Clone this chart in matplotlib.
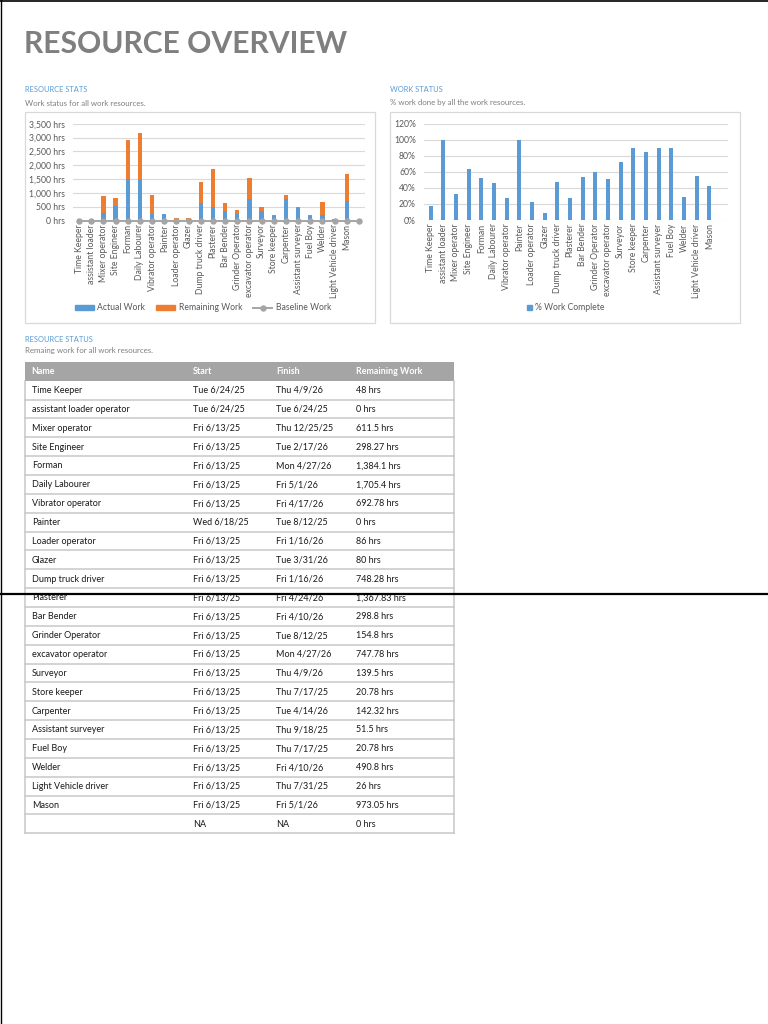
import matplotlib
matplotlib.use('Agg')
import matplotlib.pyplot as plt
from matplotlib.patches import Rectangle, Patch
from matplotlib.lines import Line2D
import numpy as np

plt.rcParams['font.family'] = ['Lato', 'DejaVu Sans']

# ---------------- data ----------------
names = ["Time Keeper", "assistant loader operator", "Mixer operator", "Site Engineer",
         "Forman", "Daily Labourer", "Vibrator operator", "Painter", "Loader operator",
         "Glazer", "Dump truck driver", "Plasterer", "Bar Bender", "Grinder Operator",
         "excavator operator", "Surveyor", "Store keeper", "Carpenter", "Assistant surveyer",
         "Fuel Boy", "Welder", "Light Vehicle driver", "Mason", ""]
chart_labels = ["Time Keeper", "assistant loader", "Mixer operator", "Site Engineer",
                "Forman", "Daily Labourer", "Vibrator operator", "Painter", "Loader operator",
                "Glazer", "Dump truck driver", "Plasterer", "Bar Bender", "Grinder Operator",
                "excavator operator", "Surveyor", "Store keeper", "Carpenter", "Assistant surveyer",
                "Fuel Boy", "Welder", "Light Vehicle driver", "Mason", ""]
starts = ["Tue 6/24/25", "Tue 6/24/25", "Fri 6/13/25", "Fri 6/13/25", "Fri 6/13/25",
          "Fri 6/13/25", "Fri 6/13/25", "Wed 6/18/25", "Fri 6/13/25", "Fri 6/13/25",
          "Fri 6/13/25", "Fri 6/13/25", "Fri 6/13/25", "Fri 6/13/25", "Fri 6/13/25",
          "Fri 6/13/25", "Fri 6/13/25", "Fri 6/13/25", "Fri 6/13/25", "Fri 6/13/25",
          "Fri 6/13/25", "Fri 6/13/25", "Fri 6/13/25", "NA"]
finishes = ["Thu 4/9/26", "Tue 6/24/25", "Thu 12/25/25", "Tue 2/17/26", "Mon 4/27/26",
            "Fri 5/1/26", "Fri 4/17/26", "Tue 8/12/25", "Fri 1/16/26", "Tue 3/31/26",
            "Fri 1/16/26", "Fri 4/24/26", "Fri 4/10/26", "Tue 8/12/25", "Mon 4/27/26",
            "Thu 4/9/26", "Thu 7/17/25", "Tue 4/14/26", "Thu 9/18/25", "Thu 7/17/25",
            "Fri 4/10/26", "Thu 7/31/25", "Fri 5/1/26", "NA"]
remaining_work = [48, 0, 611.5, 298.27, 1384.1, 1705.4, 692.78, 0, 86, 80, 748.28,
                  1367.83, 298.8, 154.8, 747.78, 139.5, 20.78, 142.32, 51.5, 20.78,
                  490.8, 26, 973.05, 0]
actual_work = [10, 0, 278, 520, 1512, 1455, 250, 230, 24, 8, 655, 500, 345, 225,
               775, 355, 187, 800, 455, 185, 195, 30, 700, 0]
baseline_work = [0] * 24
pct_complete = [17, 100, 32, 64, 52, 46, 28, 100, 23, 9, 47, 27, 54, 60, 51, 72,
                90, 85, 90, 90, 29, 55, 42, 0]
hrs_ticks = [0, 500, 1000, 1500, 2000, 2500, 3000, 3500]
pct_ticks = [0, 20, 40, 60, 80, 100, 120]

BLUE = '#5b9bd5'
ORANGE = '#ed7d31'
GRAY = '#a5a5a5'
TXT = '#595959'
FS_TICK = 6.2

W, H = 768, 1024
fig = plt.figure(figsize=(7.68, 10.24), dpi=100)
bg = fig.add_axes([0, 0, 1, 1])
bg.set_xlim(0, W)
bg.set_ylim(H, 0)
bg.axis('off')


def px_axes(x0, y0, x1, y1):
    return fig.add_axes([x0 / W, 1 - y1 / H, (x1 - x0) / W, (y1 - y0) / H])


# page borders
bg.plot([0, W], [0.5, 0.5], color='black', lw=1.2)
bg.plot([1.0, 1.0], [0, H], color='black', lw=1.0)

# title
bg.text(24, 44, "RESOURCE OVERVIEW", fontsize=21.6, fontweight='bold', color='#7f7f7f',
        va='center', ha='left')

# section headings
bg.text(25, 90, "RESOURCE STATS", fontsize=5.4, color=BLUE, va='center')
bg.text(25, 103, "Work status for all work resources.", fontsize=5.7, color='#7f7f7f', va='center')
bg.text(390, 90, "WORK STATUS", fontsize=5.4, color=BLUE, va='center')
bg.text(390, 103, "% work done by all the work resources.", fontsize=5.7, color='#7f7f7f', va='center')
bg.text(25, 339, "RESOURCE STATUS", fontsize=5.4, color=BLUE, va='center')
bg.text(25, 351, "Remaing work for all work resources.", fontsize=5.7, color='#7f7f7f', va='center')

# chart boxes
bg.add_patch(Rectangle((25, 112), 350, 211, fill=False, ec='#d9d9d9', lw=0.9))
bg.add_patch(Rectangle((390, 112), 350, 211, fill=False, ec='#d9d9d9', lw=0.9))

x = np.arange(len(chart_labels))

# ---------------- left chart ----------------
ax1 = px_axes(73, 123.7, 365, 220.7)
ax1.bar(x, actual_work, width=0.35, color=BLUE, zorder=2, label='Actual Work')
ax1.bar(x, remaining_work, bottom=actual_work, width=0.35, color=ORANGE, zorder=2,
        label='Remaining Work')
ax1.plot(x, baseline_work, color=GRAY, marker='o', ms=3.6, lw=1.4, zorder=3,
         clip_on=False, label='Baseline Work')
ax1.set_xlim(-0.5, len(x) - 0.5)
ax1.set_ylim(0, 3500)
ax1.set_yticks(hrs_ticks)
ax1.set_yticklabels([f"{v:,} hrs" for v in hrs_ticks])
ax1.set_xticks(x)
ax1.set_xticklabels(chart_labels, rotation=90)
ax1.grid(axis='y', color='#d9d9d9', lw=0.8)
ax1.set_axisbelow(True)
for s in ax1.spines.values():
    s.set_visible(False)
ax1.tick_params(axis='y', length=0, labelsize=FS_TICK, labelcolor=TXT, pad=5.5)
ax1.tick_params(axis='x', length=0, labelsize=FS_TICK, labelcolor=TXT, pad=2.5)
ax1.patch.set_alpha(0)

handles1 = [Patch(color=BLUE, label='Actual Work'),
            Patch(color=ORANGE, label='Remaining Work'),
            Line2D([], [], color=GRAY, marker='o', ms=3.6, lw=1.4, label='Baseline Work')]
fig.legend(handles=handles1, loc='center', bbox_to_anchor=(203 / W, 1 - 308 / H),
           ncol=3, frameon=False, fontsize=FS_TICK, labelcolor=TXT, handlelength=2.2,
           handleheight=0.5, columnspacing=1.3, handletextpad=0.4)

# ---------------- right chart ----------------
ax2 = px_axes(424.3, 123.7, 728.3, 220)
ax2.bar(x, pct_complete, width=0.33, color=BLUE, zorder=2, label='% Work Complete')
ax2.set_xlim(-0.5, len(x) - 0.5)
ax2.set_ylim(0, 120)
ax2.set_yticks(pct_ticks)
ax2.set_yticklabels([f"{v}%" for v in pct_ticks])
ax2.set_xticks(x)
ax2.set_xticklabels(chart_labels, rotation=90)
ax2.grid(axis='y', color='#d9d9d9', lw=0.8)
ax2.set_axisbelow(True)
for s in ax2.spines.values():
    s.set_visible(False)
ax2.tick_params(axis='y', length=0, labelsize=FS_TICK, labelcolor=TXT, pad=6)
ax2.tick_params(axis='x', length=0, labelsize=FS_TICK, labelcolor=TXT, pad=2.5)
ax2.patch.set_alpha(0)
fig.legend(handles=[Patch(color=BLUE, label='% Work Complete')], loc='center',
           bbox_to_anchor=(566 / W, 1 - 308 / H), frameon=False, fontsize=FS_TICK,
           labelcolor=TXT, handlelength=0.5, handleheight=0.5, handletextpad=0.4)

# ---------------- table ----------------
tx0, tx1 = 25, 454
hy0, hy1 = 361.7, 380.7
row_h = (833.3 - hy1) / len(names)
col_x = [31.7, 193.3, 276, 356]
bg.add_patch(Rectangle((tx0, hy0), tx1 - tx0, hy1 - hy0, color=GRAY, lw=0))
headers = ["Name", "Start", "Finish", "Remaining Work"]
for cx, h in zip(col_x, headers):
    bg.text(cx, (hy0 + hy1) / 2, h, fontsize=6.4, fontweight='bold', color='white',
            va='center', ha='left')
rem_labels = [f"{v:,g} hrs" for v in remaining_work]
for i in range(len(names)):
    y0 = hy1 + i * row_h
    yc = y0 + row_h / 2
    for cx, val in zip(col_x, [names[i], starts[i], finishes[i], rem_labels[i]]):
        bg.text(cx, yc + 0.3, val, fontsize=6.5, color='#1a1a1a', va='center', ha='left')
    bg.plot([tx0, tx1], [y0 + row_h, y0 + row_h], color='#c8c8c8', lw=1.1)
bg.plot([tx0, tx0], [hy1, hy1 + row_h * len(names)], color='#c8c8c8', lw=1.1)
bg.plot([tx1, tx1], [hy1, hy1 + row_h * len(names)], color='#c8c8c8', lw=1.1)

# overlay horizontal black line
bg.plot([0, W], [594.3, 594.3], color='black', lw=1.6, zorder=10)

fig.savefig('out.png', dpi=100)
